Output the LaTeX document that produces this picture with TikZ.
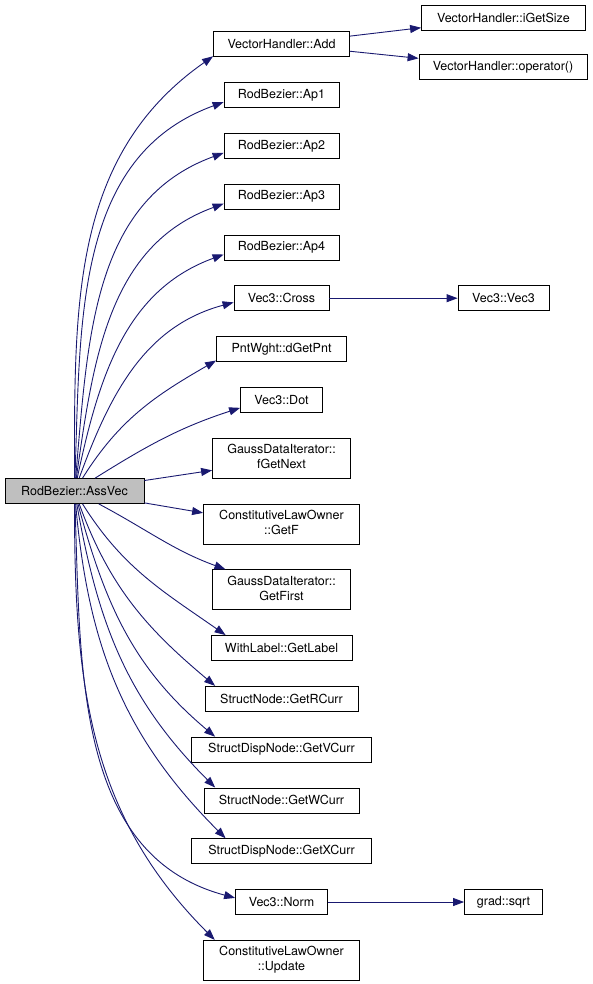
\documentclass[tikz,border=0pt]{standalone}
\usepackage{fontspec}
\setmainfont{TeX Gyre Heros}
\usepackage{tikz}
\usetikzlibrary{matrix,arrows.meta}

\definecolor{edgeblue}{HTML}{191970}
\definecolor{rootgray}{HTML}{BFBFBF}
\newcommand{\twoline}[2]{\begin{tabular}{@{}c@{}}#1\\#2\end{tabular}}

\tikzset{
	fn/.style={draw=black, line width=0.8pt, inner sep=3pt, minimum height=25pt, font=\fontsize{12.5}{15}\selectfont},
	fntwo/.style={fn, minimum height=40pt},
	call/.style={color=edgeblue, line width=0.9pt, -{Triangle[length=11pt,width=8pt]}}
}

\begin{document}
\begin{tikzpicture}[x=1pt, y=1pt]
\useasboundingbox (0,0) rectangle (592,-984);
\matrix (m) [matrix of nodes, row sep=25pt, inner sep=0pt, anchor=north, nodes={fn}] at (281.5,-31.1)
{
	|[minimum width=136pt]| VectorHandler::Add \\
	|[minimum width=115pt]| RodBezier::Ap1 \\
	|[minimum width=115pt]| RodBezier::Ap2 \\
	|[minimum width=115pt]| RodBezier::Ap3 \\
	|[minimum width=115pt]| RodBezier::Ap4 \\
	|[minimum width=95pt]| Vec3::Cross \\
	|[minimum width=130pt]| PntWght::dGetPnt \\
	|[minimum width=82pt]| Vec3::Dot \\
	|[fntwo, minimum width=138pt]| \twoline{GaussDataIterator::}{fGetNext} \\
	|[fntwo, minimum width=156pt]| \twoline{ConstitutiveLawOwner}{::GetF} \\
	|[fntwo, minimum width=138pt]| \twoline{GaussDataIterator::}{GetFirst} \\
	|[minimum width=141pt]| WithLabel::GetLabel \\
	|[minimum width=153pt]| StructNode::GetRCurr \\
	|[minimum width=180pt]| StructDispNode::GetVCurr \\
	|[minimum width=155pt]| StructNode::GetWCurr \\
	|[minimum width=180pt]| StructDispNode::GetXCurr \\
	|[minimum width=92pt]| Vec3::Norm \\
	|[fntwo, minimum width=156pt]| \twoline{ConstitutiveLawOwner}{::Update} \\
};
\node[fn, fill=rootgray, minimum width=139pt] (root) at (74.5,-491) {RodBezier::AssVec};
\node[fn, minimum width=164pt] (igs) at (503.5,-18) {VectorHandler::iGetSize};
\node[fn, minimum width=168pt] (oper) at (503,-67) {VectorHandler::operator()};
\node[fn, minimum width=91pt] (vec3) at (m-6-1 -| igs) {Vec3::Vec3};
\node[fn, minimum width=78pt] (sqrt) at (m-17-1 -| igs) {grad::sqrt};
\path[call]
(root) edge[out=90, in=215] (m-1-1.190)
(root) edge[out=88, in=200] (m-2-1.187)
(root) edge[out=85, in=200] (m-3-1.187)
(root) edge[out=82, in=200] (m-4-1.187)
(root) edge[out=78, in=200] (m-5-1.187)
(root) edge[out=70, in=195] (m-6-1.185)
(root) edge[out=58, in=210] (m-7-1.190)
(root) edge[out=32, in=198] (m-8-1.191)
(root) edge (m-9-1.190)
(root) edge (m-10-1.172)
(root) edge[out=-28, in=160] (m-11-1.160)
(root) edge[out=-58, in=145] (m-12-1.167)
(root) edge[out=-70, in=140] (m-13-1.169)
(root) edge[out=-75, in=140] (m-14-1.169)
(root) edge[out=-80, in=135] (m-15-1.169)
(root) edge[out=-85, in=135] (m-16-1.167)
(root) edge[out=-88, in=165] (m-17-1.175)
(root) edge[out=-90, in=135] (m-18-1.163)
(m-1-1) edge (igs)
(m-1-1) edge (oper)
(m-6-1) edge (vec3)
(m-17-1) edge (sqrt)
;
\end{tikzpicture}
\end{document}
